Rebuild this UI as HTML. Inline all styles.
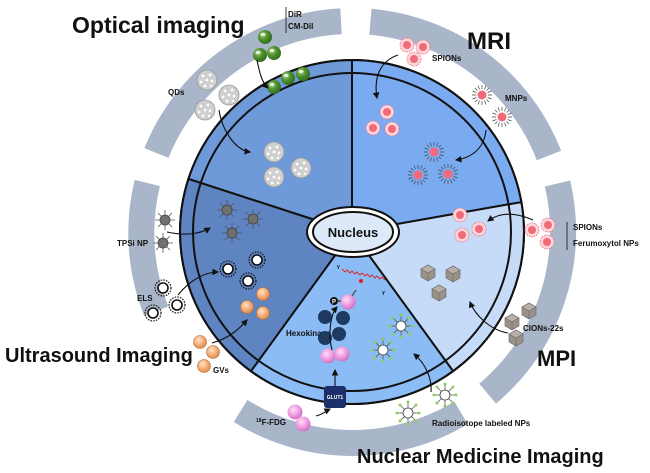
<!DOCTYPE html>
<html><head><meta charset="utf-8"><style>
html,body{margin:0;padding:0;background:#fff}
svg{display:block}
text{font-family:"Liberation Sans",sans-serif;font-weight:bold;fill:#111}
</style></head><body>
<svg width="650" height="473" viewBox="0 0 650 473" xmlns="http://www.w3.org/2000/svg">
<defs>
<radialGradient id="gg" cx="0.35" cy="0.35" r="0.7"><stop offset="0" stop-color="#9fd07a"/><stop offset="0.5" stop-color="#4d8f2f"/><stop offset="1" stop-color="#2f6a1a"/></radialGradient>
<radialGradient id="og" cx="0.4" cy="0.35" r="0.7"><stop offset="0" stop-color="#ffe6cf"/><stop offset="0.5" stop-color="#f6b07a"/><stop offset="1" stop-color="#d9874a"/></radialGradient>
<radialGradient id="pg" cx="0.4" cy="0.35" r="0.7"><stop offset="0" stop-color="#fde0f6"/><stop offset="0.6" stop-color="#ec93de"/><stop offset="1" stop-color="#c96bbc"/></radialGradient>
<g id="qd"><circle r="10" fill="#cfcfcf" stroke="#999" stroke-width="0.8"/><g fill="#fff"><circle cx="-4" cy="-4" r="1.4"/><circle cx="3" cy="-5" r="1.4"/><circle cx="-6" cy="2" r="1.4"/><circle cx="0" cy="0" r="1.4"/><circle cx="5" cy="1" r="1.4"/><circle cx="-2" cy="6" r="1.4"/><circle cx="4" cy="6" r="1.2"/></g></g>
<g id="gr"><circle r="7" fill="url(#gg)"/><ellipse cx="-2" cy="-2.5" rx="2.5" ry="1.6" fill="#fff" opacity="0.8"/></g>
<g id="sp"><circle r="7" fill="#fbd6da" stroke="#ef6b7a" stroke-width="0.8" stroke-dasharray="1.5 1"/><circle r="4" fill="#f06a78"/></g>
<g id="mnp" stroke="#444" stroke-width="0.7"><path d="M0-10V-6M0 6V10M-10 0H-6M6 0H10M-7-7L-4.5-4.5M7 7L4.5 4.5M-7 7L-4.5 4.5M7-7L4.5-4.5M-4-9.5L-2.5-5.6M4 9.5L2.5 5.6M9.5-4L5.6-2.5M-9.5 4L-5.6 2.5M4-9.5L2.5-5.6M-4 9.5L-2.5 5.6M9.5 4L5.6 2.5M-9.5-4L-5.6-2.5"/><circle r="4.5" fill="#f06a78" stroke="none"/></g>
<g id="tp" stroke="#555" stroke-width="0.8"><path d="M0-10V10M-10 0H10M-7-7L7 7M-7 7L7-7"/><circle r="5" fill="#707070" stroke="#444"/></g>
<g id="els"><circle r="8" fill="none" stroke="#111" stroke-width="1.2" stroke-dasharray="1.5 1.2"/><circle r="5" fill="#fff" stroke="#111" stroke-width="1.6"/></g>
<g id="gv"><circle r="6.5" fill="url(#og)" stroke="#b86a30" stroke-width="0.6"/></g>
<g id="cube"><path d="M-7-3L0-7L7-3L7 5L0 9L-7 5Z" fill="#9a9189" stroke="#666" stroke-width="0.6"/><path d="M-7-3L0-7L7-3L0 1Z" fill="#b8b0a8" stroke="#666" stroke-width="0.6"/><path d="M0 1V9" stroke="#666" stroke-width="0.6"/></g>
<g id="rad" stroke="#555" stroke-width="0.8"><path d="M0-11V11M-11 0H11M-8-8L8 8M-8 8L8-8"/><circle r="5" fill="#fff" stroke="#444"/><g fill="#8bd05a" stroke="none"><circle cx="0" cy="-11" r="1.5"/><circle cx="0" cy="11" r="1.5"/><circle cx="-11" cy="0" r="1.5"/><circle cx="11" cy="0" r="1.5"/><circle cx="-8" cy="-8" r="1.5"/><circle cx="8" cy="8" r="1.5"/><circle cx="-8" cy="8" r="1.5"/><circle cx="8" cy="-8" r="1.5"/></g></g>
<g id="hk"><circle r="7" fill="#1d3a63"/></g>
<g id="fdg"><circle r="7.5" fill="url(#pg)"/></g>
<marker id="ah" markerWidth="6" markerHeight="6" refX="5" refY="3" orient="auto"><path d="M0 0L6 3L0 6Z" fill="#111"/></marker>
</defs>

<!-- outer gray arcs (center 352,232, mid radius 211, width 26) -->
<g fill="none" stroke="#a9b5c9" stroke-width="26">
<path d="M156.3,311.2 A211 211 0 0 1 147.3,183.0"/>
<path d="M156.4,153.0 A211 211 0 0 1 341,21.3"/>
<path d="M370.4,21.8 A211 211 0 0 1 549,155.5"/>
<path d="M557.5,183.5 A211 211 0 0 1 487.6,393.6"/>
<path d="M461,412.8 A211 211 0 0 1 240.6,411"/>
</g>

<!-- sectors -->
<g stroke="#111" stroke-width="2">
<path d="M352,232 L188.4,178.9 A172 172 0 0 1 352,60 Z" fill="#6f9ad9"/>
<path d="M352,232 L352,60 A172 172 0 0 1 521.4,202.1 Z" fill="#7aaaf0"/>
<path d="M352,232 L521.4,202.1 A172 172 0 0 1 453.1,371.2 Z" fill="#c6dbf7"/>
<path d="M352,232 L453.1,371.2 A172 172 0 0 1 250.9,371.2 Z" fill="#8cbcf5"/>
<path d="M352,232 L250.9,371.2 A172 172 0 0 1 188.4,178.9 Z" fill="#5e84c2"/>
</g>
<circle cx="352" cy="232" r="159" fill="none" stroke="#111" stroke-width="2"/>
<circle cx="352" cy="232" r="172" fill="none" stroke="#111" stroke-width="2"/>

<!-- nucleus -->
<ellipse cx="353" cy="232" rx="46" ry="25" fill="#fff" stroke="#111" stroke-width="2"/>
<ellipse cx="353" cy="232" rx="40" ry="20" fill="#dde8f8" stroke="#111" stroke-width="2"/>
<text x="353" y="237" font-size="13" text-anchor="middle">Nucleus</text>

<!-- titles -->
<text x="72" y="33" font-size="23">Optical imaging</text>
<text x="467" y="49" font-size="24">MRI</text>
<text x="537" y="366" font-size="22">MPI</text>
<text x="5" y="362" font-size="20">Ultrasound Imaging</text>
<text x="357" y="463" font-size="20">Nuclear Medicine Imaging</text>

<!-- labels -->
<g font-size="8">
<text x="288" y="17">DiR</text><text x="288" y="29">CM-Dil</text>
<text x="168" y="95">QDs</text>
<text x="432" y="61">SPIONs</text>
<text x="505" y="101">MNPs</text>
<text x="573" y="230">SPIONs</text><text x="573" y="246">Ferumoxytol NPs</text>
<text x="523" y="331">CIONs-22s</text>
<text x="117" y="246">TPSi NP</text>
<text x="137" y="301">ELS</text>
<text x="213" y="373">GVs</text>
<text x="286" y="336">Hexokinase</text>
<text x="256" y="425"><tspan font-size="5" dy="-3">18</tspan><tspan dy="3">F-FDG</tspan></text>
<text x="432" y="426">Radioisotope labeled NPs</text>
</g>
<path d="M286,7V33M567,222V250" stroke="#111" stroke-width="0.8" fill="none"/>

<!-- particles -->
<use href="#qd" x="207" y="80"/><use href="#qd" x="229" y="95"/><use href="#qd" x="205" y="110"/>
<use href="#qd" x="274" y="152"/><use href="#qd" x="274" y="177"/><use href="#qd" x="301" y="168"/>
<use href="#gr" x="265" y="37"/><use href="#gr" x="260" y="55"/><use href="#gr" x="274" y="53"/>
<use href="#gr" x="274" y="87"/><use href="#gr" x="288" y="78"/><use href="#gr" x="303" y="74"/>
<use href="#sp" x="407" y="45"/><use href="#sp" x="423" y="47"/><use href="#sp" x="414" y="59"/>
<use href="#sp" x="387" y="112"/><use href="#sp" x="373" y="128"/><use href="#sp" x="392" y="129"/>
<use href="#mnp" x="482" y="95"/><use href="#mnp" x="502" y="117"/>
<use href="#mnp" x="434" y="152"/><use href="#mnp" x="448" y="174"/><use href="#mnp" x="418" y="175"/>
<use href="#sp" x="532" y="230"/><use href="#sp" x="548" y="225"/><use href="#sp" x="547" y="242"/>
<use href="#sp" x="460" y="215"/><use href="#sp" x="462" y="235"/><use href="#sp" x="479" y="229"/>
<use href="#cube" x="428" y="272"/><use href="#cube" x="453" y="273"/><use href="#cube" x="439" y="292"/>
<use href="#cube" x="529" y="310"/><use href="#cube" x="512" y="321"/><use href="#cube" x="516" y="337"/>
<use href="#tp" x="165" y="220"/><use href="#tp" x="163" y="243"/>
<use href="#tp" x="227" y="210"/><use href="#tp" x="253" y="219"/><use href="#tp" x="232" y="233"/>
<use href="#els" x="163" y="288"/><use href="#els" x="177" y="305"/><use href="#els" x="153" y="313"/>
<use href="#els" x="228" y="269"/><use href="#els" x="257" y="260"/><use href="#els" x="248" y="281"/>
<use href="#gv" x="200" y="342"/><use href="#gv" x="213" y="352"/><use href="#gv" x="204" y="366"/>
<use href="#gv" x="263" y="294"/><use href="#gv" x="247" y="307"/><use href="#gv" x="263" y="313"/>
<use href="#hk" x="325" y="317"/><use href="#hk" x="343" y="318"/><use href="#hk" x="325" y="338"/><use href="#hk" x="339" y="334"/>
<use href="#fdg" x="328" y="356"/><use href="#fdg" x="342" y="354"/><use href="#fdg" x="348" y="302"/>
<use href="#fdg" x="295" y="412"/><use href="#fdg" x="303" y="424"/>
<circle cx="334" cy="301" r="4" fill="#111"/><text x="334" y="303.5" font-size="6" text-anchor="middle" style="fill:#fff">P</text>
<path d="M338,301H341" stroke="#111"/>
<use href="#rad" x="401" y="326"/><use href="#rad" x="383" y="350"/>
<use href="#rad" x="445" y="395"/><use href="#rad" x="408" y="413"/>
<rect x="324" y="386" width="22" height="22" rx="3" fill="#1c2f6a"/>
<text x="335" y="399" font-size="5" text-anchor="middle" style="fill:#fff">GLUT1</text>
<!-- gamma -->
<path d="M342,269 l3,3 l2,-2 l3,3 l2,-2 l3,3 l2,-2 l3,3 l2,-2 l3,3 l2,-2 l3,3 l2,-2 l3,3 l2,-2 l3,3 l2,-2 l3,3" fill="none" stroke="#e02020" stroke-width="0.9"/>
<circle cx="361" cy="281" r="2" fill="#e02020"/>
<path d="M356,290 L352,296" stroke="#556" stroke-width="1.5"/>
<text x="337" y="268" font-size="5">γ</text><text x="382" y="294" font-size="5">γ</text>

<!-- arrows -->
<g fill="none" stroke="#111" stroke-width="1.1" marker-end="url(#ah)">
<path d="M257,60 C260,75 262,82 268,88"/>
<path d="M219,110 C222,130 235,150 250,152"/>
<path d="M398,55 C378,62 374,80 377,98"/>
<path d="M486,130 C484,150 470,158 456,160"/>
<path d="M533,220 C515,212 500,212 488,221"/>
<path d="M508,333 C490,330 475,315 470,302"/>
<path d="M167,232 C185,236 200,234 210,228"/>
<path d="M178,295 C190,280 205,272 218,272"/>
<path d="M212,343 C230,338 240,328 247,320"/>
<path d="M316,416 C324,414 328,410 330,409"/>
<path d="M335,386 L335,370"/>
<path d="M332,350 C328,335 330,315 337,307"/>
<path d="M431,392 C432,380 427,365 414,354"/>
</g>
</svg>
</body></html>
